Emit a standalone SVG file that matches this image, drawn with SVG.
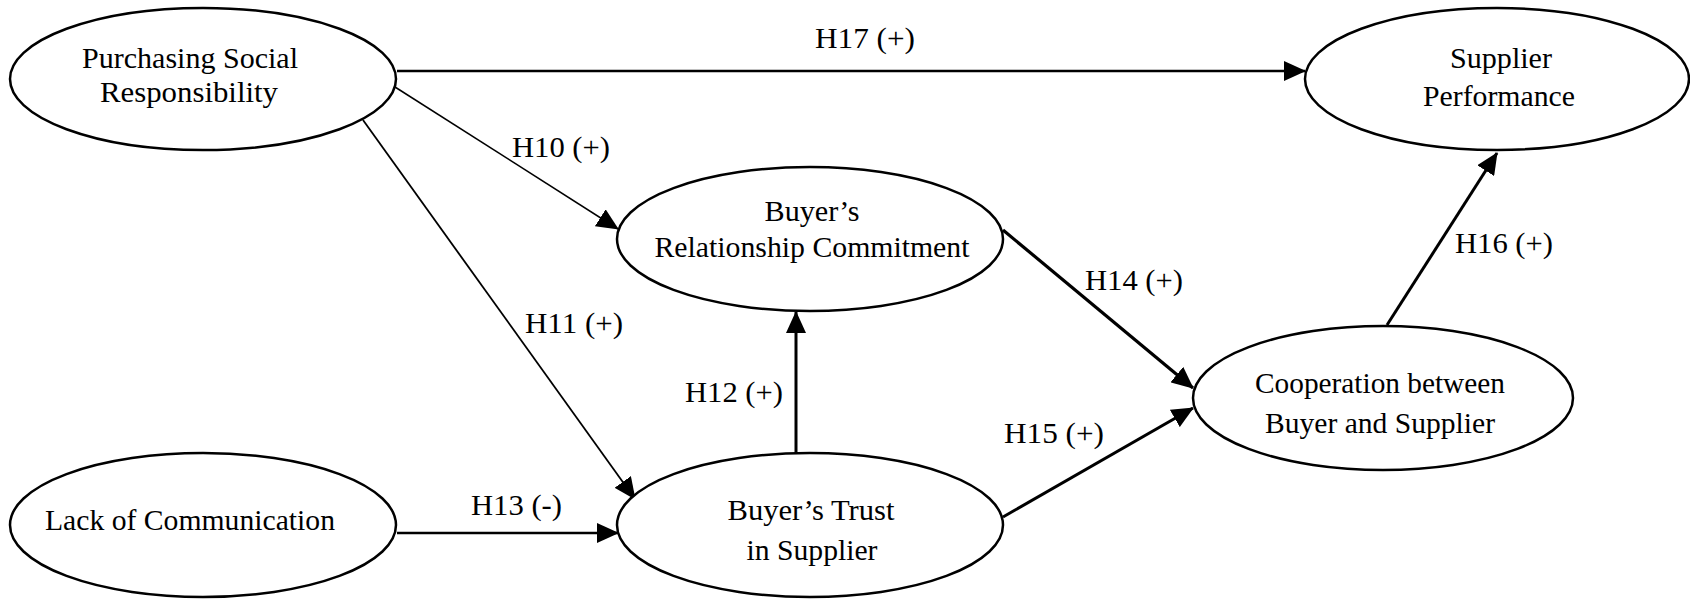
<svg xmlns="http://www.w3.org/2000/svg" width="1690" height="599" viewBox="0 0 1690 599">
<style>
.node ellipse{fill:#fff;stroke:#000;stroke-width:2.5}
text{font-family:"Liberation Serif","Times New Roman",serif;font-size:29px;fill:#000}
.nt{text-anchor:middle}
.edges line{stroke:#000;marker-end:url(#arr)}
</style>
<defs>
<marker id="arr" markerUnits="userSpaceOnUse" markerWidth="22" markerHeight="20" refX="21" refY="10" orient="auto">
<path d="M0,0 L22,10 L0,20 z" fill="#000"/>
</marker>
</defs>
<rect width="1690" height="599" fill="#fff"/>
<g class="edges">
<line x1="397" y1="71" x2="1305" y2="71" stroke-width="2.5"/>
<line x1="395" y1="87" x2="618" y2="229" stroke-width="1.5"/>
<line x1="363" y1="120" x2="635" y2="499" stroke-width="1.8"/>
<line x1="796" y1="453" x2="796" y2="312" stroke-width="3"/>
<line x1="397" y1="533" x2="618" y2="533" stroke-width="2.5"/>
<line x1="1003" y1="230" x2="1193" y2="388" stroke-width="3.2"/>
<line x1="1003" y1="517" x2="1193" y2="408" stroke-width="3"/>
<line x1="1387" y1="325" x2="1497" y2="153" stroke-width="3"/>
<text x="815" y="48" textLength="100" lengthAdjust="spacingAndGlyphs">H17 (+)</text>
<text x="512" y="157" textLength="98" lengthAdjust="spacingAndGlyphs">H10 (+)</text>
<text x="525" y="333" textLength="98" lengthAdjust="spacingAndGlyphs">H11 (+)</text>
<text x="685" y="402" textLength="98" lengthAdjust="spacingAndGlyphs">H12 (+)</text>
<text x="471" y="515" textLength="91" lengthAdjust="spacingAndGlyphs">H13 (-)</text>
<text x="1085" y="290" textLength="98" lengthAdjust="spacingAndGlyphs">H14 (+)</text>
<text x="1004" y="443" textLength="100" lengthAdjust="spacingAndGlyphs">H15 (+)</text>
<text x="1455" y="253" textLength="98" lengthAdjust="spacingAndGlyphs">H16 (+)</text>
</g>
<g id="psr" class="node">
<ellipse cx="203" cy="79" rx="193" ry="71"/>
<text class="nt" x="190" y="68" textLength="216" lengthAdjust="spacingAndGlyphs">Purchasing Social</text>
<text class="nt" x="189" y="102" textLength="178" lengthAdjust="spacingAndGlyphs">Responsibility</text>
</g>
<g id="sp" class="node">
<ellipse cx="1497" cy="79" rx="192" ry="71"/>
<text class="nt" x="1501" y="68" textLength="102" lengthAdjust="spacingAndGlyphs">Supplier</text>
<text class="nt" x="1499" y="106" textLength="152" lengthAdjust="spacingAndGlyphs">Performance</text>
</g>
<g id="brc" class="node">
<ellipse cx="810" cy="239" rx="193" ry="72"/>
<text class="nt" x="812" y="221" textLength="95" lengthAdjust="spacingAndGlyphs">Buyer’s</text>
<text class="nt" x="812" y="257" textLength="315" lengthAdjust="spacingAndGlyphs">Relationship Commitment</text>
</g>
<g id="coop" class="node">
<ellipse cx="1383" cy="398" rx="190" ry="72"/>
<text class="nt" x="1380" y="393" textLength="250" lengthAdjust="spacingAndGlyphs">Cooperation between</text>
<text class="nt" x="1380" y="433" textLength="230" lengthAdjust="spacingAndGlyphs">Buyer and Supplier</text>
</g>
<g id="loc" class="node">
<ellipse cx="203" cy="525" rx="193" ry="72"/>
<text class="nt" x="190" y="530" textLength="290" lengthAdjust="spacingAndGlyphs">Lack of Communication</text>
</g>
<g id="bts" class="node">
<ellipse cx="810" cy="525" rx="193" ry="72"/>
<text class="nt" x="811" y="520" textLength="167" lengthAdjust="spacingAndGlyphs">Buyer’s Trust</text>
<text class="nt" x="812" y="560" textLength="131" lengthAdjust="spacingAndGlyphs">in Supplier</text>
</g>
</svg>
